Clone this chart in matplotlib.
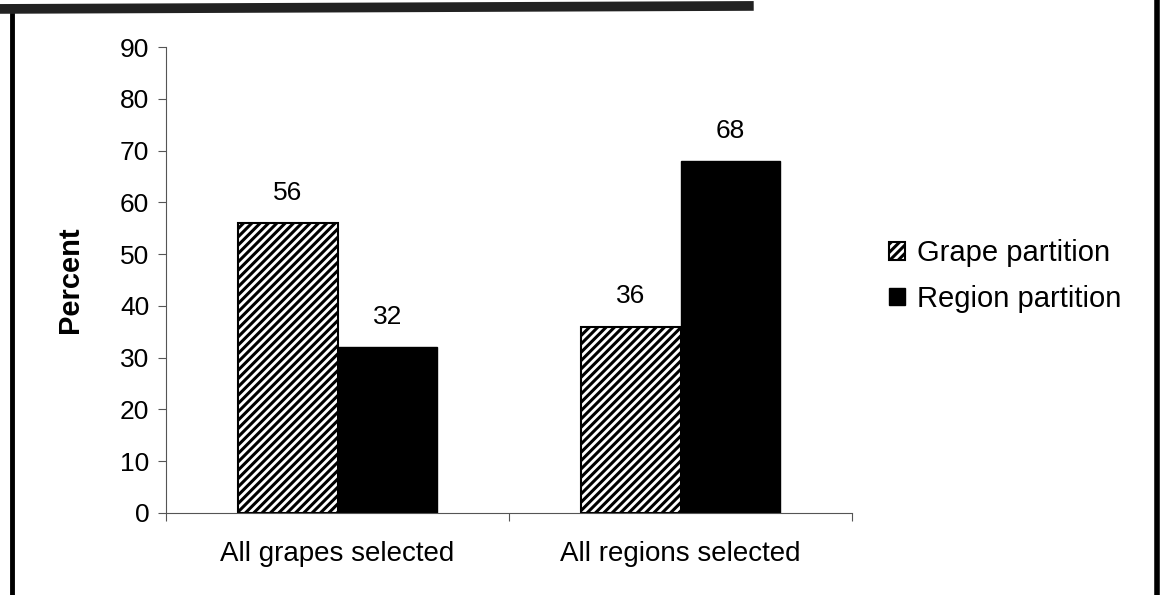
import matplotlib
matplotlib.use('Agg')
import matplotlib.pyplot as plt
from matplotlib.lines import Line2D
import numpy as np

plt.rcParams['font.family'] = ['Liberation Sans', 'DejaVu Sans']
plt.rcParams['hatch.linewidth'] = 2.2

categories = ['All grapes selected', 'All regions selected']
series_names = ['Grape partition', 'Region partition']
grape_values = [56, 36]
region_values = [32, 68]
y_ticks = [0, 10, 20, 30, 40, 50, 60, 70, 80, 90]

fig = plt.figure(figsize=(11.61, 5.95), dpi=100)
ax = fig.add_axes([0.143, 0.138, 0.591, 0.783])

x = np.arange(len(categories))
w = 0.29
bars1 = ax.bar(x - w / 2, grape_values, w, color='white', edgecolor='black',
               hatch='////', linewidth=1.5, label=series_names[0])
bars2 = ax.bar(x + w / 2, region_values, w, color='black', edgecolor='black',
               linewidth=1.0, label=series_names[1])

for bars in (bars1, bars2):
    for b in bars:
        ax.annotate(f'{b.get_height():.0f}', (b.get_x() + b.get_width() / 2, b.get_height()),
                    xytext=(0, 13), textcoords='offset points',
                    ha='center', va='bottom', fontsize=19)

ax.set_xlim(-0.5, len(categories) - 0.5)
ax.set_ylim(0, 90)
ax.set_yticks(y_ticks)
ax.set_xticks(x)
ax.set_xticklabels(categories)
ax.set_xticks(np.arange(len(categories) + 1) - 0.5, minor=True)
ax.tick_params(axis='x', which='major', length=0, pad=20, labelsize=20)
ax.tick_params(axis='x', which='minor', length=6, color='#555555', width=0.8)
ax.tick_params(axis='y', length=6, color='#555555', width=0.8, pad=6, labelsize=19)
ax.set_ylabel('Percent', fontsize=21, fontweight='bold', labelpad=26)

for s in ['top', 'right']:
    ax.spines[s].set_visible(False)
for s in ['left', 'bottom']:
    ax.spines[s].set_color('#555555')
    ax.spines[s].set_linewidth(0.8)

ax.legend(loc='center left', bbox_to_anchor=(0.7555, 0.536), bbox_transform=fig.transFigure,
          frameon=False, fontsize=21, handlelength=0.55, handleheight=0.55,
          handletextpad=0.4, labelspacing=0.6, borderaxespad=0)

# scanned page frame
fig.add_artist(Line2D([0.0105, 0.0105], [0.0, 0.975], color='black', lw=3.5, transform=fig.transFigure))
fig.add_artist(Line2D([0.9965, 0.9965], [0.0, 1.0], color='black', lw=4, transform=fig.transFigure))
fig.add_artist(Line2D([0.0, 0.645], [0.985, 0.99], color='#222222', lw=7, transform=fig.transFigure))

fig.savefig('out.png', dpi=100)
